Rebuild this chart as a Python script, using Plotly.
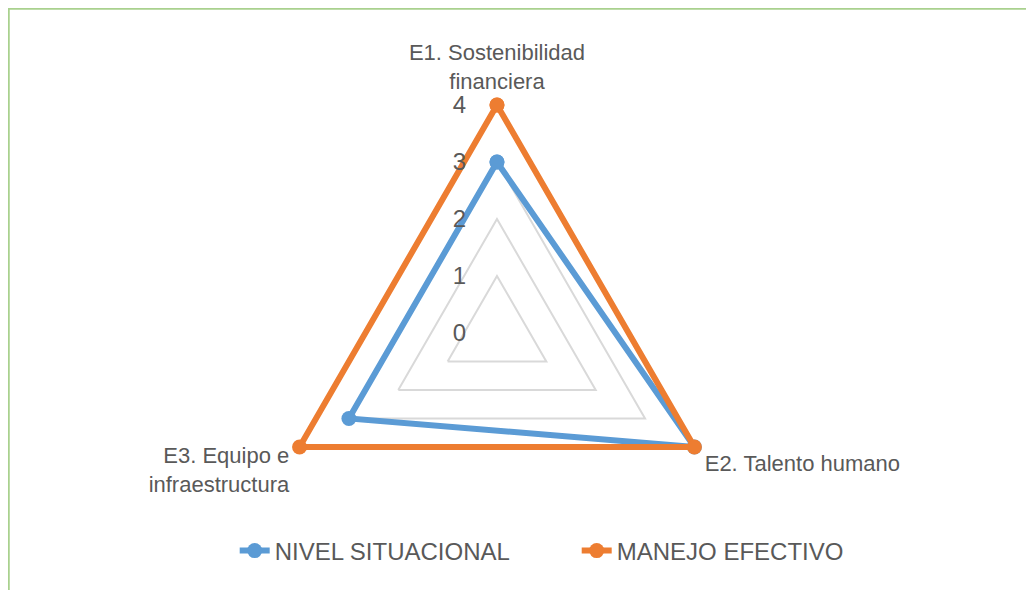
import plotly.graph_objects as go

# ─── Data ────────────────────────────────────────────────────────────────────
CATEGORIES = [
    "E1. Sostenibilidad<br>financiera",
    "E2. Talento humano",
    "E3. Equipo e<br>infraestructura",
]
NIVEL_SITUACIONAL = [3, 4, 3]
MANEJO_EFECTIVO = [4, 4, 4]
RADIAL_TICKS = [0, 1, 2, 3, 4]

# ─── Style ───────────────────────────────────────────────────────────────────
BLUE = "#5b9bd5"
ORANGE = "#ed7d31"
TEXT = "#595959"
GRID = "#d9d9d9"
BORDER = "#a9d18e"
FONT = "Liberation Sans, Arial, sans-serif"


def closed(values):
    return values + [values[0]]


fig = go.Figure()

for name, values, color in [
    ("NIVEL SITUACIONAL", NIVEL_SITUACIONAL, BLUE),
    ("MANEJO EFECTIVO", MANEJO_EFECTIVO, ORANGE),
]:
    fig.add_trace(
        go.Scatterpolar(
            r=closed(values),
            theta=closed(CATEGORIES),
            mode="lines+markers",
            name=name,
            line=dict(color=color, width=6),
            marker=dict(color=color, size=15),
            cliponaxis=False,
        )
    )

# the page body adds an 8px offset, so positions below are shifted by -8px
fig.update_layout(
    width=1034,
    height=590,
    margin=dict(l=0, r=0, t=0, b=0),
    paper_bgcolor="white",
    font=dict(family=FONT, color=TEXT),
    polar=dict(
        domain=dict(x=[0.2414, 0.7044], y=[0.0434, 0.8549]),
        bgcolor="white",
        gridshape="linear",
        radialaxis=dict(
            range=[0, 4.2],
            tickvals=RADIAL_TICKS,
            angle=90,
            tickangle=90,
            side="counterclockwise",
            showline=False,
            gridcolor=GRID,
            gridwidth=1.5,
            ticks="outside",
            ticklen=22,
            tickcolor="rgba(0,0,0,0)",
            tickfont=dict(size=24, color=TEXT, family=FONT),
        ),
        angularaxis=dict(
            rotation=90,
            direction="clockwise",
            showgrid=False,
            showline=False,
            ticks="",
            tickfont=dict(size=22, color=TEXT, family=FONT),
        ),
    ),
    legend=dict(
        orientation="h",
        x=0.550,
        xanchor="center",
        y=0.0797,
        yanchor="middle",
        font=dict(size=24, color=TEXT, family=FONT),
        entrywidth=297,
        entrywidthmode="pixels",
    ),
    shapes=[
        dict(
            type="rect",
            xref="paper",
            yref="paper",
            x0=0.5 / 1034,
            x1=1.2,
            y0=-0.2,
            y1=1 - 0.5 / 590,
            line=dict(color=BORDER, width=2.5),
            layer="below",
        )
    ],
)

fig.write_html("out.html")
